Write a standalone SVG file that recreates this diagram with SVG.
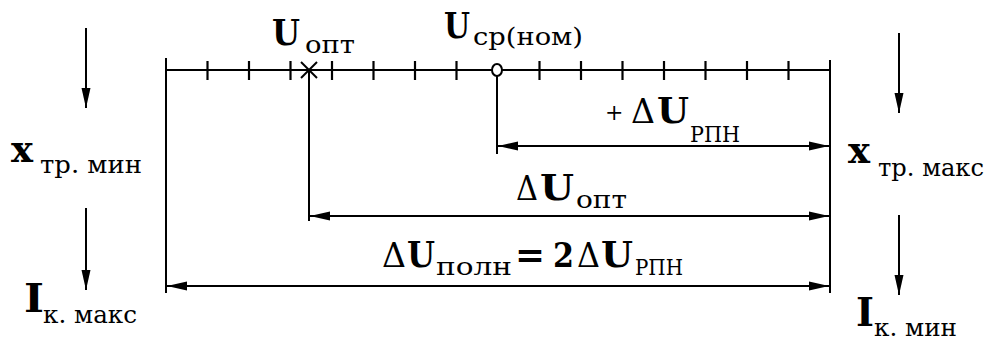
<svg xmlns="http://www.w3.org/2000/svg" width="987" height="342" viewBox="0 0 987 342">
<defs>
<style>
.ln{stroke:#000;stroke-width:2;fill:none}
.tk{stroke:#000;stroke-width:2.2}
.arr{stroke:#000;stroke-width:2;fill:none;marker-end:url(#ah)}
.dim{stroke:#000;stroke-width:2;fill:none;marker-start:url(#ah);marker-end:url(#ah)}
.b{font-weight:bold}
.s{font-size:25px}
</style>
<marker id="ah" viewBox="0 0 20 10" refX="20" refY="5" markerWidth="20" markerHeight="10" markerUnits="userSpaceOnUse" orient="auto-start-reverse">
<path d="M0,0.5 L20,5 L0,9.5 z" fill="#000"/>
</marker>
</defs>
<rect width="987" height="342" fill="#fff"/>

<g id="scale">
<line class="ln" x1="166" y1="58" x2="166" y2="293"/>
<line class="ln" x1="830" y1="60" x2="830" y2="293"/>
<line class="ln" x1="166" y1="70" x2="830" y2="70"/>
<g class="tk">
<line x1="207.5" y1="61" x2="207.5" y2="80"/>
<line x1="249" y1="61" x2="249" y2="80"/>
<line x1="290.5" y1="61" x2="290.5" y2="80"/>
<line x1="332" y1="61" x2="332" y2="80"/>
<line x1="373.5" y1="61" x2="373.5" y2="80"/>
<line x1="415" y1="61" x2="415" y2="80"/>
<line x1="456.5" y1="61" x2="456.5" y2="80"/>
<line x1="539.5" y1="61" x2="539.5" y2="80"/>
<line x1="581" y1="61" x2="581" y2="80"/>
<line x1="622.5" y1="61" x2="622.5" y2="80"/>
<line x1="664" y1="61" x2="664" y2="80"/>
<line x1="705.5" y1="61" x2="705.5" y2="80"/>
<line x1="747" y1="61" x2="747" y2="80"/>
<line x1="788.5" y1="61" x2="788.5" y2="80"/>
</g>
</g>

<g id="labels" font-family="DejaVu Serif, serif">
<g id="U_opt">
<line class="ln" x1="301" y1="62" x2="317" y2="78"/>
<line class="ln" x1="301" y1="78" x2="317" y2="62"/>
<text x="272" y="45" class="b" font-size="36" textLength="28" lengthAdjust="spacingAndGlyphs">U</text>
<text x="305" y="53" class="s" textLength="50" lengthAdjust="spacingAndGlyphs">опт</text>
</g>

<g id="U_nom">
<line class="ln" x1="497" y1="76" x2="497" y2="154"/>
<ellipse cx="497" cy="70" rx="5" ry="6" fill="#fff" stroke="#000" stroke-width="2"/>
<text x="444" y="38" class="b" font-size="36" textLength="26" lengthAdjust="spacingAndGlyphs">U</text>
<text x="473" y="45" class="s" textLength="110" lengthAdjust="spacingAndGlyphs">ср(ном)</text>
</g>

<g id="x_min">
<text x="11" y="162" class="b" font-size="38" textLength="22" lengthAdjust="spacingAndGlyphs">x</text>
<text x="40" y="173" class="s" textLength="102" lengthAdjust="spacingAndGlyphs">тр. мин</text>
</g>

<g id="I_max">
<text x="24" y="312" class="b" font-size="40" textLength="20" lengthAdjust="spacingAndGlyphs">I</text>
<text x="43" y="323" class="s" textLength="94" lengthAdjust="spacingAndGlyphs">к. макс</text>
</g>

<g id="x_max">
<text x="848" y="163" class="b" font-size="38" textLength="22" lengthAdjust="spacingAndGlyphs">x</text>
<text x="878" y="176" class="s" textLength="106" lengthAdjust="spacingAndGlyphs">тр. макс</text>
</g>

<g id="I_min">
<text x="856" y="326" class="b" font-size="40" textLength="18" lengthAdjust="spacingAndGlyphs">I</text>
<text x="874" y="336" class="s" textLength="83" lengthAdjust="spacingAndGlyphs">к. мин</text>
</g>

<g id="dU_rpn">
<text x="605" y="120" font-size="22">+</text>
<text x="631" y="123" font-size="34" textLength="24" lengthAdjust="spacingAndGlyphs">Δ</text>
<text x="657" y="123" class="b" font-size="36" textLength="32" lengthAdjust="spacingAndGlyphs">U</text>
<text x="690" y="142" font-size="22" textLength="50" lengthAdjust="spacingAndGlyphs">РПН</text>
</g>

<g id="dU_opt">
<text x="516" y="200" font-size="34" textLength="22" lengthAdjust="spacingAndGlyphs">Δ</text>
<text x="540" y="200" class="b" font-size="36" textLength="34" lengthAdjust="spacingAndGlyphs">U</text>
<text x="576" y="208" class="s" textLength="51" lengthAdjust="spacingAndGlyphs">опт</text>
</g>

<g id="dU_full">
<text x="382" y="267" font-size="34" textLength="24" lengthAdjust="spacingAndGlyphs">Δ</text>
<text x="407" y="267" class="b" font-size="36" textLength="28" lengthAdjust="spacingAndGlyphs">U</text>
<text x="436" y="275" class="s" textLength="76" lengthAdjust="spacingAndGlyphs">полн</text>
<text x="515" y="267" class="b" font-size="36" textLength="30" lengthAdjust="spacingAndGlyphs">=</text>
<text x="553" y="267" class="b" font-size="34" textLength="21" lengthAdjust="spacingAndGlyphs">2</text>
<text x="577" y="267" font-size="34" textLength="23" lengthAdjust="spacingAndGlyphs">Δ</text>
<text x="601" y="267" class="b" font-size="36" textLength="32" lengthAdjust="spacingAndGlyphs">U</text>
<text x="635" y="275" font-size="22" textLength="48" lengthAdjust="spacingAndGlyphs">РПН</text>
</g>
</g>

<g id="connectors">
<line class="arr" x1="86" y1="28" x2="86" y2="108"/>
<line class="arr" x1="86" y1="208" x2="86" y2="290"/>
<line class="arr" x1="899" y1="33" x2="899" y2="113"/>
<line class="arr" x1="899" y1="215" x2="899" y2="295"/>
<line class="ln" x1="309" y1="70" x2="309" y2="221"/>
<line class="dim" x1="498" y1="146" x2="829" y2="146"/>
<line class="dim" x1="310" y1="216" x2="829" y2="216"/>
<line class="dim" x1="167" y1="286" x2="829" y2="286"/>
</g>
</svg>
